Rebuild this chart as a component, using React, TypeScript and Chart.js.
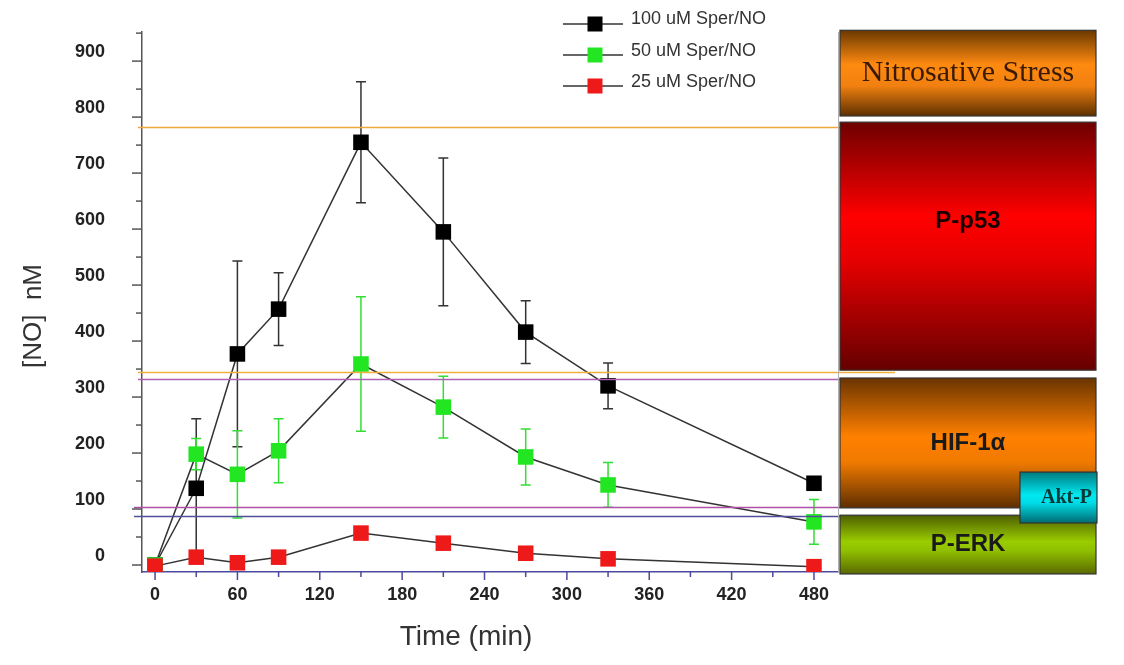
import React, { useEffect, useRef } from "react";
import { Chart, registerables } from "chart.js";

Chart.register(...registerables);

// ---- data ----
const times = [0, 30, 60, 90, 150, 210, 270, 330, 480];
const seriesLabels = ["100 uM Sper/NO", "50 uM Sper/NO", "25 uM Sper/NO"];
const no100 = [0, 137, 377, 457, 755, 595, 416, 320, 146];
const no100Err = [0, 124, 166, 65, 108, 132, 56, 41, 0];
const no50 = [0, 198, 162, 204, 359, 282, 193, 143, 77];
const no50Err = [0, 28, 78, 57, 120, 55, 50, 40, 40];
const no25 = [-2, 14, 4, 14, 57, 39, 21, 11, -3];
const no25Err = [0, 0, 0, 10, 0, 0, 0, 0, 0];

const xTickLabels = [0, 60, 120, 180, 240, 300, 360, 420, 480];
const yTickLabels = [0, 100, 200, 300, 400, 500, 600, 700, 800, 900];

// horizontal threshold lines (nM)
const thresholdValues = [782, 345, 332, 103, 88];

// signalling bands (nM ranges)
const bandLabels = ["Nitrosative Stress", "P-p53", "HIF-1α", "P-ERK", "Akt-P"];
const bandHigh = [955, 791, 334, 89, 166];
const bandLow = [802, 348, 102, -16, 75];

const SANS = "'Liberation Sans', Arial, sans-serif";
const SERIF = "'Liberation Serif', 'Times New Roman', serif";

const seriesColors = ["#000000", "#22e622", "#ee1a1a"];
const errColors = ["#333333", "#33dd33", "#ee1a1a"];
const seriesValues = [no100, no50, no25];
const seriesErrs = [no100Err, no50Err, no25Err];

const errorBarPlugin = {
  id: "errorBars",
  beforeDatasetsDraw(chart: any) {
    const { ctx } = chart;
    const xs = chart.scales.x;
    const ys = chart.scales.y;
    ctx.save();
    for (let s = 0; s < seriesValues.length; s++) {
      ctx.strokeStyle = errColors[s];
      ctx.lineWidth = 1.5;
      seriesValues[s].forEach((v: number, i: number) => {
        const e = seriesErrs[s][i];
        if (!e) return;
        const x = xs.getPixelForValue(times[i]);
        const yTop = ys.getPixelForValue(v + e);
        const yBot = ys.getPixelForValue(v - e);
        ctx.beginPath();
        ctx.moveTo(x, yTop);
        ctx.lineTo(x, yBot);
        ctx.moveTo(x - 5, yTop);
        ctx.lineTo(x + 5, yTop);
        ctx.moveTo(x - 5, yBot);
        ctx.lineTo(x + 5, yBot);
        ctx.stroke();
      });
    }
    ctx.restore();
  },
};

const thresholdPlugin = {
  id: "thresholds",
  afterDatasetsDraw(chart: any) {
    const { ctx } = chart;
    const ys = chart.scales.y;
    const colors = ["#f0a83c", "#f0b040", "#b060b0", "#b04fa8", "#50509a"];
    const x0s = [138, 138, 138, 134, 134];
    const x1s = [840, 895, 840, 840, 1020];
    ctx.save();
    thresholdValues.forEach((v, i) => {
      const y = Math.round(ys.getPixelForValue(v)) + 0.5;
      ctx.strokeStyle = colors[i];
      ctx.lineWidth = 1.6;
      ctx.beginPath();
      ctx.moveTo(x0s[i], y);
      ctx.lineTo(x1s[i], y);
      ctx.stroke();
    });
    ctx.restore();
  },
};

const decorPlugin = {
  id: "decor",
  afterDraw(chart: any) {
    const { ctx, chartArea } = chart;
    const xs = chart.scales.x;
    const ys = chart.scales.y;
    ctx.save();

    // right frame line
    ctx.strokeStyle = "#b0b0b0";
    ctx.lineWidth = 1;
    ctx.beginPath();
    ctx.moveTo(chartArea.right + 0.5, chartArea.top);
    ctx.lineTo(chartArea.right + 0.5, chartArea.bottom);
    ctx.stroke();

    // y ticks (major + minor)
    ctx.strokeStyle = "#555";
    ctx.lineWidth = 1.5;
    ys.ticks.forEach((t: any) => {
      const v = t.value;
      if (v < 0 || v % 50 !== 0) return;
      const y = ys.getPixelForValue(v);
      const len = v % 100 === 0 ? 10 : 6;
      ctx.beginPath();
      ctx.moveTo(chartArea.left - len, y);
      ctx.lineTo(chartArea.left, y);
      ctx.stroke();
    });
    // x ticks
    ctx.strokeStyle = "#4a4aa0";
    xs.ticks.forEach((t: any) => {
      const v = t.value;
      if (v < 0 || v % 30 !== 0) return;
      const x = xs.getPixelForValue(v);
      const len = v % 60 === 0 ? 8 : 5;
      ctx.beginPath();
      ctx.moveTo(x, chartArea.bottom);
      ctx.lineTo(x, chartArea.bottom + len);
      ctx.stroke();
    });

    // axis titles
    ctx.fillStyle = "#333";
    ctx.font = `28px ${SANS}`;
    ctx.textAlign = "center";
    ctx.textBaseline = "middle";
    ctx.fillText("Time (min)", 466, 637);
    ctx.save();
    ctx.translate(34, 316);
    ctx.rotate(-Math.PI / 2);
    ctx.font = `26px ${SANS}`;
    ctx.fillText("[NO]  nM", 0, 0);
    ctx.restore();

    // legend
    const markerY = [24, 55, 86];
    const textY = [19, 51, 82];
    for (let i = 0; i < seriesLabels.length; i++) {
      ctx.strokeStyle = "#333";
      ctx.lineWidth = 1.5;
      ctx.beginPath();
      ctx.moveTo(563, markerY[i]);
      ctx.lineTo(623, markerY[i]);
      ctx.stroke();
      ctx.fillStyle = seriesColors[i];
      ctx.fillRect(595 - 7.5, markerY[i] - 7.5, 15, 15);
      ctx.fillStyle = "#333";
      ctx.font = `18px ${SANS}`;
      ctx.textAlign = "left";
      ctx.textBaseline = "middle";
      ctx.fillText(seriesLabels[i], 631, textY[i]);
    }

    // bands
    const bx0 = [840, 840, 840, 840, 1020];
    const bx1 = [1096, 1096, 1096, 1096, 1097];
    const stops: [number, string][][] = [
      [[0, "#6a3800"], [0.4, "#ff8a10"], [0.65, "#f08010"], [1, "#5c3000"]],
      [[0, "#6e0000"], [0.38, "#ff0000"], [0.55, "#e80000"], [1, "#660000"]],
      [[0, "#6a3400"], [0.45, "#ff8000"], [0.65, "#f07a00"], [1, "#5e2e00"]],
      [[0, "#4e5e00"], [0.45, "#9acd00"], [0.6, "#90c000"], [1, "#5a6a00"]],
      [[0, "#007a80"], [0.45, "#00e8f0"], [0.6, "#00dde8"], [1, "#006a70"]],
    ];
    const fonts = [
      `30px ${SERIF}`,
      `bold 24px ${SANS}`,
      `bold 24px ${SANS}`,
      `bold 24px ${SANS}`,
      `bold 20px ${SERIF}`,
    ];
    const textColors = ["#3a1a05", "#1a0000", "#1a1a1a", "#1a1a1a", "#063838"];
    const textFrac = [0.5, 0.4, 0.5, 0.5, 0.5];
    const textDx = [0, 0, 0, 0, 8];
    for (let i = 0; i < bandLabels.length; i++) {
      const yTop = ys.getPixelForValue(bandHigh[i]);
      const yBot = ys.getPixelForValue(bandLow[i]);
      const g = ctx.createLinearGradient(0, yTop, 0, yBot);
      stops[i].forEach(([o, c]) => g.addColorStop(o, c));
      ctx.fillStyle = g;
      ctx.fillRect(bx0[i], yTop, bx1[i] - bx0[i], yBot - yTop);
      ctx.strokeStyle = "#333";
      ctx.lineWidth = 1.2;
      ctx.strokeRect(bx0[i], yTop, bx1[i] - bx0[i], yBot - yTop);
      ctx.fillStyle = textColors[i];
      ctx.font = fonts[i];
      ctx.textAlign = "center";
      ctx.textBaseline = "middle";
      ctx.fillText(
        bandLabels[i],
        (bx0[i] + bx1[i]) / 2 + textDx[i],
        yTop + (yBot - yTop) * textFrac[i]
      );
    }
    ctx.restore();
  },
};

export default function App() {
  const ref = useRef<HTMLCanvasElement>(null);
  useEffect(() => {
    const canvas = ref.current;
    if (!canvas) return;
    const orders = [2, 1, 0];
    const chart = new Chart(canvas, {
      type: "line",
      data: {
        datasets: seriesValues.map((vals, s) => ({
          label: seriesLabels[s],
          data: times.map((t, i) => ({ x: t, y: vals[i] })),
          borderColor: "#333333",
          borderWidth: 1.5,
          pointStyle: "rect",
          pointRadius: 11,
          pointBackgroundColor: seriesColors[s],
          pointBorderColor: seriesColors[s],
          pointBorderWidth: 0,
          fill: false,
          tension: 0,
          order: orders[s],
        })),
      },
      options: {
        responsive: false,
        animation: false,
        events: [],
        layout: { padding: { left: 0, top: 32, right: 286, bottom: 0 } },
        plugins: {
          legend: { display: false },
          tooltip: { enabled: false },
          title: { display: false },
        },
        scales: {
          x: {
            type: "linear",
            min: -9.5,
            max: 497.5,
            afterFit: (scale: any) => {
              scale.height = 93;
              scale.paddingLeft = 0;
              scale.paddingRight = 0;
              scale.paddingTop = 0;
              scale.paddingBottom = 0;
            },
            grid: { display: true, drawOnChartArea: false, drawTicks: false },
            border: { display: true, color: "#4a4aa0", width: 1.6 },
            ticks: {
              stepSize: 30,
              includeBounds: false,
              autoSkip: false,
              maxRotation: 0,
              padding: 12,
              color: "#222",
              font: { family: SANS, size: 18, weight: "bold" },
              callback: (v: any) => (xTickLabels.includes(Number(v)) ? String(v) : ""),
            },
          },
          y: {
            type: "linear",
            min: -12.5,
            max: 952,
            afterFit: (scale: any) => {
              scale.width = 142;
              scale.paddingTop = 0;
              scale.paddingBottom = 0;
              scale.paddingLeft = 0;
              scale.paddingRight = 0;
            },
            grid: { display: true, drawOnChartArea: false, drawTicks: false },
            border: { display: true, color: "#555", width: 1.5 },
            ticks: {
              stepSize: 50,
              includeBounds: false,
              autoSkip: false,
              padding: 37,
              labelOffset: -9,
              color: "#222",
              font: { family: SANS, size: 18, weight: "bold" },
              callback: (v: any) => (yTickLabels.includes(Number(v)) ? String(v) : ""),
            },
          },
        },
      } as any,
      plugins: [errorBarPlugin, thresholdPlugin, decorPlugin],
    });
    return () => chart.destroy();
  }, []);
  return (
    <div
      style={{
        position: "fixed",
        left: 0,
        top: 0,
        width: 1124,
        height: 665,
        background: "#ffffff",
      }}
    >
      <canvas ref={ref} width={1124} height={665} style={{ width: 1124, height: 665, display: "block" }} />
    </div>
  );
}
